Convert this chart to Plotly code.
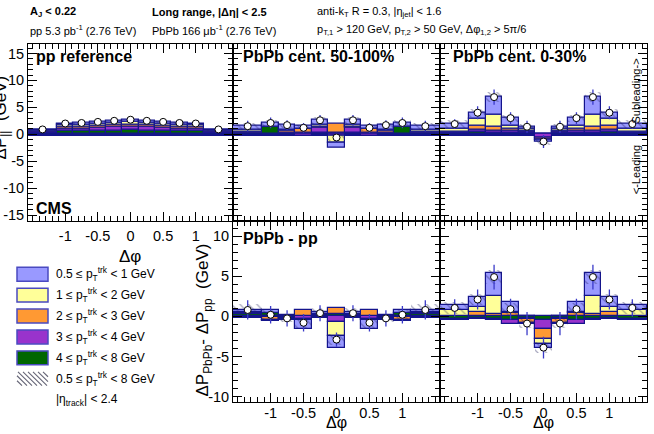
import numpy as np
import plotly.graph_objects as go

W, H = 654, 434

# ---------------- data ----------------
edges = [-1.5708, -1.125, -0.875, -0.625, -0.375, -0.125, 0.125, 0.375, 0.625, 0.875, 1.125, 1.5708]
x_ticks = [-1, -0.5, 0, 0.5, 1]
x_tick_text = ["-1", "-0.5", "0", "0.5", "1"]
y_ticks_top = [-15, -10, -5, 0, 5, 10, 15]
y_ticks_bot = [-10, -5, 0, 5, 10]

comp_colors = ["#006600", "#9933cc", "#ff9933", "#ffff99", "#9999ff"]  # 4-8, 3-4, 2-3, 1-2, 0.5-1 GeV

# pp reference  (components ordered: 4-8, 3-4, 2-3, 1-2, 0.5-1 GeV)
pp_c48 = [0.30, 0.60, 0.60, 0.65, 0.70, 0.75, 0.70, 0.65, 0.60, 0.60, 0.30]
pp_c34 = [0.20, 0.50, 0.50, 0.55, 0.60, 0.65, 0.60, 0.55, 0.50, 0.50, 0.20]
pp_c23 = [0.15, 0.30, 0.35, 0.40, 0.45, 0.45, 0.45, 0.40, 0.35, 0.30, 0.15]
pp_c12 = [0.10, 0.30, 0.30, 0.35, 0.35, 0.40, 0.35, 0.35, 0.30, 0.30, 0.10]
pp_c051 = [0.15, 0.30, 0.35, 0.35, 0.40, 0.45, 0.40, 0.35, 0.35, 0.30, 0.15]
pp_stat = [0.10] * 11
pp_sys = [0.20] * 11

# PbPb 50-100%
p50_c48 = [0.20, 1.40, 0.20, 0.20, 0.30, 0.30, 0.30, 0.20, 0.20, 1.40, 0.20]
p50_c34 = [0.10, 0.00, 0.10, -0.30, 0.90, -0.30, 0.90, -0.30, 0.10, 0.00, 0.10]
p50_c23 = [0.20, 0.00, 0.30, 0.80, 0.20, 1.70, 0.20, 0.80, 0.30, 0.00, 0.20]
p50_c12 = [0.30, 0.00, 0.30, 0.10, 0.30, -1.30, 0.30, 0.10, 0.30, 0.00, 0.30]
p50_c051 = [0.70, 0.70, 0.80, 0.40, 0.90, -1.00, 0.90, 0.40, 0.80, 0.70, 0.70]
p50_stat = [1.0, 1.0, 0.9, 0.9, 1.0, 0.9, 1.0, 0.9, 0.9, 1.0, 1.0]
p50_sys = [0.7, 0.6, 0.5, 0.5, 0.6, 0.6, 0.6, 0.5, 0.5, 0.6, 0.7]

# PbPb 0-30%
p0_c48 = [0.20, 0.40, 0.30, 0.30, 0.20, 0.10, 0.20, 0.30, 0.30, 0.40, 0.20]
p0_c34 = [0.20, 0.40, 0.30, 0.30, 0.20, -0.60, 0.20, 0.30, 0.30, 0.40, 0.20]
p0_c23 = [0.10, 0.85, 0.80, 0.50, 0.30, -0.40, 0.30, 0.50, 0.80, 0.85, 0.10]
p0_c12 = [0.50, 1.25, 2.30, 0.40, 0.30, -0.10, 0.30, 0.40, 2.30, 1.25, 0.50]
p0_c051 = [0.90, 1.10, 3.20, 1.50, 0.40, -0.35, 0.40, 1.50, 3.20, 1.10, 0.90]
p0_stat = [0.9, 1.2, 1.4, 1.1, 1.1, 1.2, 1.1, 1.1, 1.4, 1.2, 0.9]
p0_sys = [0.7, 0.7, 0.9, 0.7, 0.6, 0.6, 0.6, 0.7, 0.9, 0.7, 0.7]

# PbPb - pp, 50-100%
d50_c48 = [0.30, 0.40, 0.20, 0.10, 0.20, 0.30, 0.20, 0.10, 0.20, 0.40, 0.30]
d50_c34 = [0.00, -0.10, -0.10, -0.30, 0.10, -0.70, 0.10, -0.30, -0.10, -0.10, 0.00]
d50_c23 = [0.10, -0.40, -0.10, 0.70, -0.10, 0.80, -0.10, 0.70, -0.10, -0.40, 0.10]
d50_c12 = [0.10, -0.10, -0.10, -0.20, 0.00, -1.70, 0.00, -0.20, -0.10, -0.10, 0.10]
d50_c051 = [0.30, 0.40, -0.15, -1.10, 0.20, -1.60, 0.20, -1.10, -0.15, 0.40, 0.30]
d50_stat = [1.2, 1.1, 1.0, 1.1, 1.0, 0.9, 1.0, 1.1, 1.0, 1.1, 1.2]
d50_sys = [0.8, 0.6, 0.5, 0.6, 0.6, 0.7, 0.6, 0.6, 0.5, 0.6, 0.8]

# PbPb - pp, 0-30%
d0_c48 = [-0.30, -0.20, -0.30, -0.50, -0.20, -0.50, -0.20, -0.50, -0.30, -0.20, -0.30]
d0_c34 = [-0.10, -0.10, -0.20, -0.40, -0.10, -1.10, -0.10, -0.40, -0.20, -0.10, -0.10]
d0_c23 = [0.10, 0.50, 0.30, 0.40, -0.50, -1.25, -0.50, 0.40, 0.30, 0.50, 0.10]
d0_c12 = [0.75, 0.70, 2.30, 0.20, 0.05, -0.60, 0.05, 0.20, 2.30, 0.70, 0.75]
d0_c051 = [0.60, 1.20, 2.80, 1.20, -0.15, -0.45, -0.15, 1.20, 2.80, 1.20, 0.60]
d0_stat = [1.1, 1.25, 1.55, 1.3, 1.45, 1.35, 1.45, 1.3, 1.55, 1.25, 1.1]
d0_sys = [0.8, 0.7, 0.9, 0.8, 0.6, 0.7, 0.6, 0.8, 0.9, 0.7, 0.8]

# ---------------- figure ----------------
centers = [(a + b) / 2 for a, b in zip(edges[:-1], edges[1:])]
widths = [b - a for a, b in zip(edges[:-1], edges[1:])]

panels = [
    ("x", "y", [pp_c48, pp_c34, pp_c23, pp_c12, pp_c051], pp_stat, pp_sys),
    ("x2", "y2", [p50_c48, p50_c34, p50_c23, p50_c12, p50_c051], p50_stat, p50_sys),
    ("x3", "y3", [p0_c48, p0_c34, p0_c23, p0_c12, p0_c051], p0_stat, p0_sys),
    ("x4", "y4", [d50_c48, d50_c34, d50_c23, d50_c12, d50_c051], d50_stat, d50_sys),
    ("x5", "y5", [d0_c48, d0_c34, d0_c23, d0_c12, d0_c051], d0_stat, d0_sys),
]

NAVY = "#14148c"
fig = go.Figure()
for xa, ya, comps, stat, sys in panels:
    pos = np.zeros(len(centers))
    neg = np.zeros(len(centers))
    for vals, col in zip(comps, comp_colors):
        v = np.array(vals, dtype=float)
        base = np.where(v >= 0, pos, neg)
        fig.add_trace(go.Bar(x=centers, y=v, base=base, width=widths, xaxis=xa, yaxis=ya,
                             marker=dict(color=col, line=dict(color=NAVY, width=1.2)),
                             showlegend=False, hoverinfo="skip"))
        pos = pos + np.clip(v, 0, None)
        neg = neg + np.clip(v, None, 0)
    total = pos + neg
    s = np.array(sys)
    fig.add_trace(go.Bar(x=centers, y=2 * s, base=total - s, width=widths, xaxis=xa, yaxis=ya,
                         marker=dict(color="rgba(0,0,0,0)", line=dict(width=0),
                                     pattern=dict(shape="\\", fgcolor="rgba(30,30,90,0.8)",
                                                  bgcolor="rgba(0,0,0,0)", size=6, solidity=0.2)),
                         showlegend=False, hoverinfo="skip"))
    fig.add_trace(go.Scatter(x=centers, y=total, mode="markers", xaxis=xa, yaxis=ya,
                             marker=dict(size=7, color="white", line=dict(color="black", width=1)),
                             error_y=dict(type="data", array=stat, color="#3a3ac8", thickness=1.3, width=0),
                             showlegend=False, hoverinfo="skip"))


def px(x):
    return x / W


def py(y):
    return 1 - y / H


colx = [(28, 233), (233, 440), (440, 647)]
top_dom = [py(222), py(44)]
bot_dom = [py(404), py(222)]
XR = [-1.5708, 1.5708]
YR_TOP = [-16.1, 16.8]
YR_BOT = [-10.7, 11.9]

FONT = "Liberation Sans, Arial, sans-serif"
common = dict(showline=True, linecolor="black", linewidth=1, mirror="ticks", ticks="inside",
              ticklen=9, tickwidth=1, tickcolor="black", showgrid=False, zeroline=False,
              tickfont=dict(family=FONT, size=14.5, color="black"))


def xax(dom, anchor, labels, standoff=0):
    d = dict(common, domain=[px(dom[0]), px(dom[1])], anchor=anchor, range=XR,
             tickvals=x_ticks, ticktext=x_tick_text, showticklabels=labels,
             ticklabelstandoff=standoff,
             minor=dict(ticks="inside", ticklen=5, dtick=0.1, tick0=0, tickcolor="black"))
    return d


def yax(dom, anchor, rng, tv, labels):
    d = dict(common, domain=dom, anchor=anchor, range=rng, tickvals=tv,
             ticktext=[str(t) for t in tv], showticklabels=labels,
             zeroline=True, zerolinecolor=NAVY, zerolinewidth=3,
             minor=dict(ticks="inside", ticklen=5, dtick=1, tick0=0, tickcolor="black"))
    return d


layout = dict(
    width=W, height=H, margin=dict(l=0, r=0, t=0, b=0),
    paper_bgcolor="white", plot_bgcolor="rgba(0,0,0,0)",
    barmode="overlay", bargap=0, showlegend=False,
    font=dict(family=FONT, color="black"),
    xaxis=xax(colx[0], "y", True, 2), yaxis=yax(top_dom, "x", YR_TOP, y_ticks_top, True),
    xaxis2=xax(colx[1], "y2", False), yaxis2=yax(top_dom, "x2", YR_TOP, y_ticks_top, False),
    xaxis3=xax(colx[2], "y3", False), yaxis3=yax(top_dom, "x3", YR_TOP, y_ticks_top, False),
    xaxis4=xax(colx[1], "y4", True, -3), yaxis4=yax(bot_dom, "x4", YR_BOT, y_ticks_bot, True),
    xaxis5=xax(colx[2], "y5", True, -3), yaxis5=yax(bot_dom, "x5", YR_BOT, y_ticks_bot, False),
)
fig.update_layout(**layout)

ann = []


def A(text, x, y, size=12, bold=False, xanchor="left", angle=0, yanchor="middle"):
    if bold:
        text = "<b>" + text + "</b>"
    ann.append(dict(text=text, x=px(x), y=py(y), xref="paper", yref="paper", showarrow=False,
                    xanchor=xanchor, yanchor=yanchor, textangle=angle,
                    font=dict(family=FONT, size=size, color="black")))


# header
A("A<sub>J</sub> < 0.22", 28, 12, 11, True)
A("pp 5.3 pb<sup>-1</sup> (2.76 TeV)", 28, 30, 11)
A("Long range, |Δη| < 2.5", 150, 12, 11, True)
A("PbPb 166 μb<sup>-1</sup> (2.76 TeV)", 150, 30, 11)
A("anti-k<sub>T</sub> R = 0.3, |η<sub>jet</sub>| < 1.6", 315, 12, 11)
A("p<sub>T,1</sub> > 120 GeV, p<sub>T,2</sub> > 50 GeV, Δφ<sub>1,2</sub> > 5π/6", 315, 30, 11)

# panel labels
A("pp reference", 34, 57, 16, True)
A("PbPb cent. 50-100%", 241, 57, 16, True)
A("PbPb cent. 0-30%", 451, 57, 16, True)
A("CMS", 34, 209, 16, True)
A("PbPb - pp", 241, 240, 16, True)
A("Subleading->", 636, 92, 11, False, "center", -90)
A("<-Leading", 636, 171, 11, False, "center", -90)

# axis titles
A("Δφ", 130, 258, 17, False, "center")
A("Δφ", 336, 435, 16, False, "center", 0, "bottom")
A("Δφ", 543, 435, 16, False, "center", 0, "bottom")
A("ΔP<sub>||</sub>  (GeV)", 2, 118, 17, False, "center", -90)
A("ΔP<sub>PbPb</sub>- ΔP<sub>pp</sub>  (GeV)", 204, 322, 17, False, "center", -90)

# legend
leg_text = ["0.5 ≤ p<sub>T</sub><sup>trk</sup> < 1 GeV", "1 ≤ p<sub>T</sub><sup>trk</sup> < 2 GeV",
            "2 ≤ p<sub>T</sub><sup>trk</sup> < 3 GeV", "3 ≤ p<sub>T</sub><sup>trk</sup> < 4 GeV",
            "4 ≤ p<sub>T</sub><sup>trk</sup> < 8 GeV", "0.5 ≤ p<sub>T</sub><sup>trk</sup> < 8 GeV"]
leg_cols = [comp_colors[4], comp_colors[3], comp_colors[2], comp_colors[1], comp_colors[0]]
leg_y = [275.5, 296.5, 317.5, 338.5, 359.5, 380.5]
shapes = []
for i, t in enumerate(leg_text):
    yc = leg_y[i]
    A(t, 54, yc, 12)
    if i < 5:
        shapes.append(dict(type="rect", xref="paper", yref="paper", x0=px(17), x1=px(48),
                           y0=py(yc + 7), y1=py(yc - 7), fillcolor=leg_cols[i],
                           line=dict(color="#4a4ac0", width=1.5)))
    else:
        # hatch sample
        x0, x1, yt, yb = 17, 48, yc - 7, yc + 7
        path = ""
        for k in range(-14, 32, 5):
            ax_, ay_ = x0 + k, yt
            bx_, by_ = x0 + k + 14, yb
            if ax_ < x0:
                ay_ = yt + (x0 - ax_)
                ax_ = x0
            if bx_ > x1:
                by_ = yb - (bx_ - x1)
                bx_ = x1
            if bx_ <= ax_:
                continue
            path += f"M{px(ax_)},{py(ay_)} L{px(bx_)},{py(by_)} "
        shapes.append(dict(type="path", xref="paper", yref="paper", path=path,
                           line=dict(color="#666677", width=1.1)))
A("|η<sub>track</sub>| < 2.4", 54, 402, 12)

fig.update_layout(annotations=ann, shapes=shapes)
fig.write_html("out.html")
